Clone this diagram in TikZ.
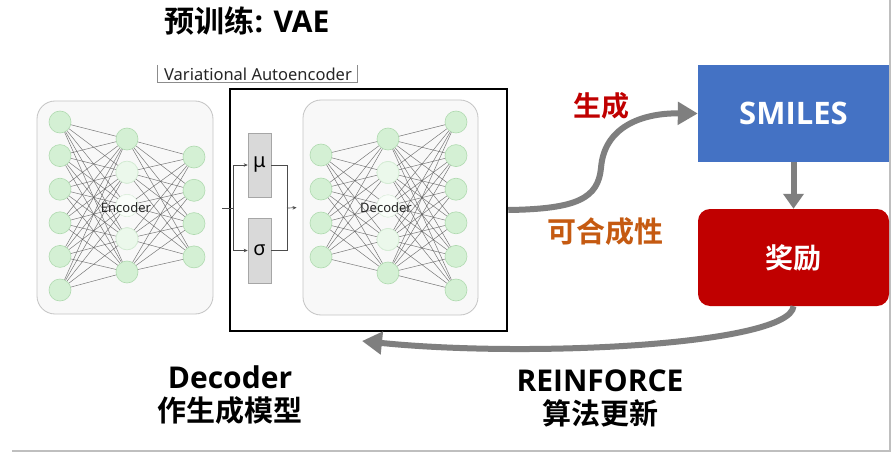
\documentclass[tikz,border=0pt]{standalone}
\usepackage{fontspec}
\setmainfont{Open Sans}
\newfontfamily\cjk{Noto Sans CJK SC}[BoldFont={Noto Sans CJK SC Bold}]
\newfontfamily\lat{Open Sans}
\newfontfamily\lblfont{Noto Sans}
\usetikzlibrary{arrows.meta}
\definecolor{nfill}{HTML}{D4F0D4}
\definecolor{ndraw}{HTML}{B0DAB0}
\definecolor{boxfill}{HTML}{F8F8F8}
\definecolor{boxdraw}{HTML}{C4C4C4}
\definecolor{smblue}{HTML}{4472C4}
\definecolor{rwred}{HTML}{C00000}
\definecolor{synor}{HTML}{C55A11}
\definecolor{arrgray}{HTML}{7F7F7F}
\definecolor{latgray}{HTML}{D9D9D9}
\tikzset{
  neuron/.style={circle, minimum size=22pt, inner sep=0pt, fill=nfill, draw=ndraw, line width=0.6pt},
  fadeA/.style={fill opacity=0.45, draw opacity=0.45},
  fadeB/.style={fill opacity=0.12, draw opacity=0.2},
  conn/.style={draw=black!65, line width=0.5pt, opacity=0.8},
  netbox/.style={draw=boxdraw, fill=boxfill, rounded corners=18pt, line width=0.8pt},
  latbox/.style={draw=black!35, fill=latgray, line width=0.6pt, minimum width=23pt, inner sep=0pt},
  small/.style={font=\lblfont\fontsize{12.5}{14}\selectfont, text=black!85},
  bigtxt/.style={font=\fontsize{30}{35}\selectfont\bfseries, align=center, inner sep=0pt},
  thinarr/.style={draw=black!70, line width=0.7pt, -{Stealth[length=4pt,width=3.5pt]}},
  thinline/.style={draw=black!70, line width=0.7pt},
  flow/.style={draw=arrgray, line width=6pt, -{Triangle[length=20pt,width=22pt]}},
}
\begin{document}
\begin{tikzpicture}[x=1pt,y=-1pt]
\path[use as bounding box] (0,0) rectangle (895,452);
\fill[white] (0,0) rectangle (895,452);
% slide edge
\draw[black!25, line width=2pt] (890,0) -- (890,451) -- (12,451);

% title
\node[bigtxt] (title) at (247,21) {\cjk\bfseries 预训练\lat\bfseries: VAE};

% VAE label
\node[small, font=\lblfont\fontsize{16.5}{18}\selectfont] (varlab) at (258,74) {Variational Autoencoder};
\draw[black!45, line width=1pt] (157,65) |- (357,83) -- (357,65);

% boxes
\node[netbox, minimum width=176pt, minimum height=213pt] (encbox) at (125,207.5) {};
\node[netbox, minimum width=175pt, minimum height=215pt] (decbox) at (390.5,207.5) {};

% encoder neurons
\foreach \i in {1,...,6} \node[neuron] (ea\i) at (60,{122+33.6*(\i-1)}) {};
\foreach \i in {1,...,5} \node[neuron] (eb\i) at (127,{139+33.25*(\i-1)}) {};
\foreach \i in {1,...,4} \node[neuron] (ec\i) at (194,{157+33.3*(\i-1)}) {};
% decoder neurons
\foreach \i in {1,...,4} \node[neuron] (da\i) at (321,{155+34*(\i-1)}) {};
\foreach \i in {1,...,5} \node[neuron] (db\i) at (388,{139+33.5*(\i-1)}) {};
\foreach \i in {1,...,6} \node[neuron] (dc\i) at (456,{122+33.6*(\i-1)}) {};
% faded middle neurons (redrawn over)
\foreach \n in {eb2,eb3,eb4,db2,db3,db4} \fill[white] (\n.center) circle (11.3pt);
\foreach \p in {(127,172.25),(127,238.75),(388,172.5),(388,239.5)} \node[neuron, fadeA] at \p {};
\foreach \p in {(127,205.5),(388,206)} \node[neuron, fadeB] at \p {};

% connections
\foreach \i in {1,...,6} \foreach \j in {1,...,5} \draw[conn] (ea\i) -- (eb\j);
\foreach \i in {1,...,5} \foreach \j in {1,...,4} \draw[conn] (eb\i) -- (ec\j);
\foreach \i in {1,...,4} \foreach \j in {1,...,5} \draw[conn] (da\i) -- (db\j);
\foreach \i in {1,...,5} \foreach \j in {1,...,6} \draw[conn] (db\i) -- (dc\j);

\node[small, font=\lblfont\fontsize{13}{15}\selectfont] (enclab) at (126,208) {Encoder};
\node[small, font=\lblfont\fontsize{13}{15}\selectfont] (declab) at (386,208) {Decoder};

% VAE frame
\node[draw=black, line width=2.5pt, minimum width=277pt, minimum height=242pt, inner sep=0pt] (vae) at (368.5,210) {};

% latent boxes
\node[latbox, minimum height=64pt] (mu) at (259.5,165) {\lblfont\fontsize{20}{22}\selectfont μ};
\node[latbox, minimum height=65pt] (sigma) at (259.5,250.5) {\lblfont\fontsize{20}{22}\selectfont σ};
\coordinate (inp) at (222,208);
\coordinate (split) at (233,208);
\coordinate (merge) at (287,208);
\draw[thinline] (inp) -- (split);
\draw[thinarr] (split) |- (mu.west);
\draw[thinarr] (split) |- (sigma.west);
\draw[thinline] (mu.east) -| (merge);
\draw[thinline] (sigma.east) -| (merge);
\draw[thinarr, shorten >=6pt] (merge) -- (decbox.west);

% right side
\node[fill=smblue, minimum width=191pt, minimum height=97pt, inner sep=0pt, text=white, font=\fontsize{31}{36}\selectfont\bfseries] (smiles) at (793.5,113.5) {SMILES};
\node[fill=rwred, rounded corners=12pt, minimum width=191pt, minimum height=97pt, inner sep=0pt, text=white, font=\fontsize{28}{34}\selectfont\bfseries] (reward) at (793.5,257.5) {\cjk\bfseries 奖励};

\draw[flow, -{Triangle[length=15pt,width=20pt]}] (smiles.south) -- (reward.north);
\draw[flow, line cap=butt] (vae.east) .. controls (578,209) and (598,198) .. (601,168) .. controls (604,128) and (640,113) .. (smiles.west);
\coordinate (back) at (362,341);
\draw[flow] (reward.south) .. controls (790,345) and (530,358) .. (back);

% labels
\node[bigtxt, font=\fontsize{28}{34}\selectfont\bfseries, text=rwred] (gen) at (601,106) {\cjk\bfseries 生成};
\node[bigtxt, font=\fontsize{29}{34}\selectfont\bfseries, text=synor] (synth) at (605,232) {\cjk\bfseries 可合成性};
\node[bigtxt, font=\fontsize{30}{33}\selectfont\bfseries] (declabel) at (230,395) {Decoder\\\cjk\fontsize{29}{33}\selectfont\bfseries 作生成模型};
\node[bigtxt, font=\fontsize{30}{33}\selectfont\bfseries] (rflabel) at (600,398) {REINFORCE\\\cjk\fontsize{29}{33}\selectfont\bfseries 算法更新};
\end{tikzpicture}
\end{document}
